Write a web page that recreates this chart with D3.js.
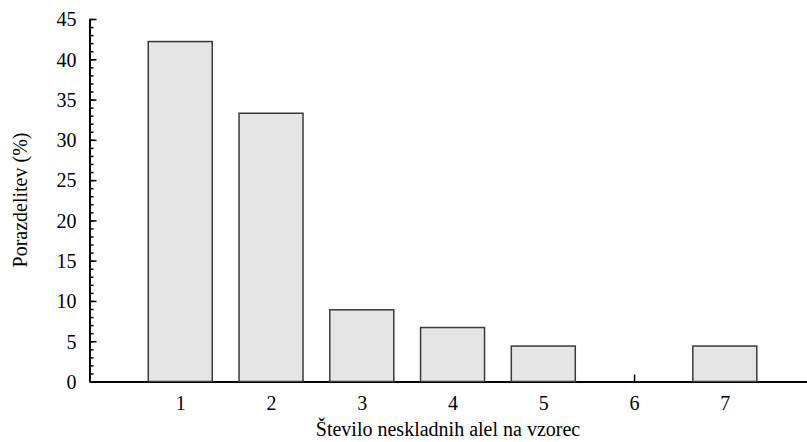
<!DOCTYPE html>
<html>
<head>
<meta charset="utf-8">
<script src="https://cdn.jsdelivr.net/npm/d3@7"></script>
<style>
   body { margin: 0; background: #fff; }
</style>
</head>
<body>
<div id="chart"></div>
<script>
// CHART DATA
var categories = [1, 2, 3, 4, 5, 6, 7];
var shares = [42.2, 33.3, 8.9, 6.7, 4.4, 0, 4.4];
var yTicks = [0, 5, 10, 15, 20, 25, 30, 35, 40, 45];
var yLabel = 'Porazdelitev (%)';
var xLabel = 'Število neskladnih alel na vzorec';

// SETTINGS
var settings = {
   width: 807,
   height: 442,
   left: 89.5,
   right: 806.5,
   top: 19,
   bottom: 381.5,
   barWidth: 0.705,
   fill: '#e5e5e5',
   stroke: '#3a3a3a',
   font: 'Liberation Serif',
   fontSize: 20
}

// GENERATE CANVAS
var canvas = d3.select('#chart').append('svg')
   .attr('width', settings.width)
   .attr('height', settings.height)

// X-SCALING
var xScale = d3.scaleLinear()
   .domain([0, 7.9])
   .range([settings.left, settings.right])

// Y-SCALING
var yScale = d3.scaleLinear()
   .domain([0, 45])
   .range([settings.bottom, settings.top])

// GENERATE BARS
canvas.selectAll('rect.bar')
   .data(shares)
      .enter().append('rect')
         .attr('class', 'bar')
         .attr('x', (d, i) => { return xScale(categories[i] - settings.barWidth / 2) })
         .attr('width', xScale(settings.barWidth) - xScale(0))
         .attr('y', (d) => { return yScale(d) })
         .attr('height', (d) => { return yScale(0) - yScale(d) })
         .attr('fill', settings.fill)
         .attr('stroke', settings.stroke)
         .attr('stroke-width', 1.5)

// Y-AXIS MINOR TICKS
canvas.append('g')
   .attr('transform', 'translate(' + settings.left + ',0)')
   .call(d3.axisRight(yScale).tickValues(d3.range(0, 46, 1)).tickSize(4).tickFormat(''))
   .call(g => g.select('.domain').remove())
   .selectAll('line').attr('stroke', '#000').attr('stroke-width', 1.5)

// Y-AXIS MAJOR TICKS AND LABELS
var yAxis = canvas.append('g')
   .attr('transform', 'translate(' + settings.left + ',0)')
   .call(d3.axisRight(yScale).tickValues(yTicks).tickSize(7).tickSizeOuter(0))

yAxis.attr('font-family', settings.font).attr('font-size', settings.fontSize)
yAxis.select('.domain').attr('stroke', '#000').attr('stroke-width', 2)
yAxis.selectAll('line').attr('stroke', '#000').attr('stroke-width', 1.5)
yAxis.selectAll('text')
   .attr('x', -13)
   .attr('dy', '0.34em')
   .attr('text-anchor', 'end')
   .attr('fill', '#000')

// X-AXIS
var xAxis = canvas.append('g')
   .attr('transform', 'translate(0,' + settings.bottom + ')')
   .call(d3.axisTop(xScale).tickValues(categories).tickSize(7).tickSizeOuter(0).tickFormat(d3.format('d')))

xAxis.attr('font-family', settings.font).attr('font-size', settings.fontSize)
xAxis.select('.domain').attr('stroke', '#000').attr('stroke-width', 2)
xAxis.selectAll('line').attr('stroke', '#000').attr('stroke-width', 1.5)
xAxis.selectAll('text')
   .attr('y', 28)
   .attr('dy', 0)
   .attr('fill', '#000')

// KEEP BARS ABOVE X TICKS
canvas.selectAll('rect.bar').raise()

// AXIS TITLES
canvas.append('text')
   .attr('x', (settings.left + settings.right) / 2)
   .attr('y', 436)
   .attr('text-anchor', 'middle')
   .attr('font-family', settings.font)
   .attr('font-size', settings.fontSize)
   .text(xLabel)

canvas.append('text')
   .attr('transform', 'translate(27,' + 200 + ') rotate(-90)')
   .attr('text-anchor', 'middle')
   .attr('font-family', settings.font)
   .attr('font-size', settings.fontSize)
   .text(yLabel)
</script>
</body>
</html>
